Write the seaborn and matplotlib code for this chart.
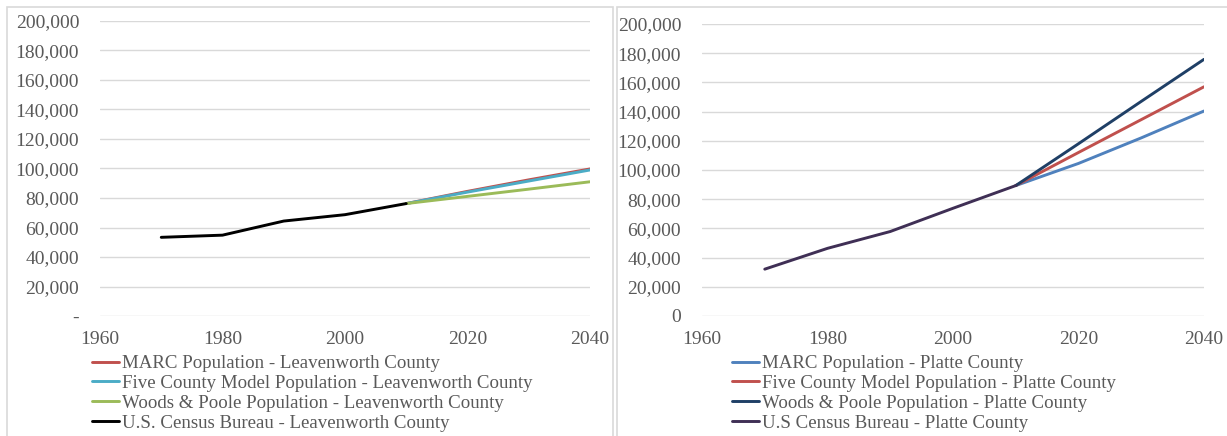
import matplotlib
matplotlib.use("Agg")
import matplotlib.pyplot as plt
from matplotlib.patches import Rectangle
from matplotlib.ticker import FuncFormatter, MultipleLocator
import pandas as pd
import seaborn as sns

# Census counts
census_years = [1970, 1980, 1990, 2000, 2010]
leav_census = [53340, 54809, 64371, 68691, 76227]
platte_census = [32081, 46341, 57867, 73781, 89322]

# Projections, 2010 base through 2040
proj_years = [2010, 2020, 2030, 2040]
leav_marc = [76227, 84500, 92300, 99700]
leav_five = [76227, 84000, 91500, 99000]
leav_wp = [76227, 81100, 86000, 91000]
platte_marc = [89322, 104500, 122000, 140400]
platte_five = [89322, 112000, 134500, 157000]
platte_wp = [89322, 118000, 147000, 175800]

leav_labels = ["MARC Population - Leavenworth County",
               "Five County Model Population - Leavenworth County",
               "Woods & Poole Population - Leavenworth County",
               "U.S. Census Bureau - Leavenworth County"]
platte_labels = ["MARC Population - Platte County",
                 "Five County Model Population - Platte County",
                 "Woods & Poole Population - Platte County",
                 "U.S Census Bureau - Platte County"]

leav_colors = ["#C0504D", "#4BACC6", "#9BBB59", "#000000"]
platte_colors = ["#4F81BD", "#C0504D", "#1F3F66", "#3F2F55"]

sns.set_theme(style="white")
plt.rcParams["font.family"] = ["Liberation Serif", "DejaVu Serif"]

TEXT = "#595959"
GRID = "#D9D9D9"


def frame(series_list, labels):
    parts = []
    for (yrs, vals), lab in zip(series_list, labels):
        parts.append(pd.DataFrame({"Year": yrs, "Population": vals, "Series": lab}))
    return pd.concat(parts, ignore_index=True)


leav_df = frame([(proj_years, leav_marc), (proj_years, leav_five),
                 (proj_years, leav_wp), (census_years, leav_census)], leav_labels)
platte_df = frame([(proj_years, platte_marc), (proj_years, platte_five),
                   (proj_years, platte_wp), (census_years, platte_census)], platte_labels)

W, H = 1227, 436
fig = plt.figure(figsize=(W / 100, H / 100), dpi=100)

# panel borders
for x0, x1 in [(7, 613), (617, 1240)]:
    fig.patches.append(Rectangle((x0 / W, -0.05), (x1 - x0) / W, (H - 7) / H + 0.05,
                                 transform=fig.transFigure, fill=False,
                                 edgecolor=GRID, linewidth=1.2))


def px_axes(left, right, top, bottom):
    return fig.add_axes([left / W, (H - bottom) / H, (right - left) / W, (bottom - top) / H])


def style(ax, zero_label, df, labels, colors, legend_x):
    sns.lineplot(data=df, x="Year", y="Population", hue="Series", hue_order=labels,
                 palette=colors, linewidth=2.1, ax=ax, sort=False, estimator=None)
    ax.set_xlim(1960, 2040)
    ax.set_ylim(0, 200000)
    ax.xaxis.set_major_locator(MultipleLocator(20))
    ax.yaxis.set_major_locator(MultipleLocator(20000))
    ax.yaxis.set_major_formatter(FuncFormatter(
        lambda v, p: zero_label if v == 0 else f"{int(v):,}"))
    ax.grid(axis="y", color=GRID, linewidth=1.0)
    ax.set_axisbelow(True)
    for s in ax.spines.values():
        s.set_visible(False)
    ax.tick_params(axis="both", length=0, labelsize=14, labelcolor=TEXT)
    ax.tick_params(axis="y", pad=15)
    ax.tick_params(axis="x", pad=11)
    ax.set_xlabel("")
    ax.set_ylabel("")
    handles, labs = ax.get_legend_handles_labels()
    ax.legend(handles, labs, loc="upper left",
              bbox_to_anchor=(legend_x / W, (H - 355) / H),
              bbox_transform=fig.transFigure, frameon=False, fontsize=13.6,
              labelcolor=TEXT, handlelength=1.45, handletextpad=0.12,
              labelspacing=0.14, borderaxespad=0, borderpad=0)


ax1 = px_axes(100, 590, 21, 316)
style(ax1, "-", leav_df, leav_labels, leav_colors, 92)

ax2 = px_axes(702, 1204, 24, 316)
style(ax2, "0", platte_df, platte_labels, platte_colors, 732)

fig.savefig("out.png", dpi=100)
